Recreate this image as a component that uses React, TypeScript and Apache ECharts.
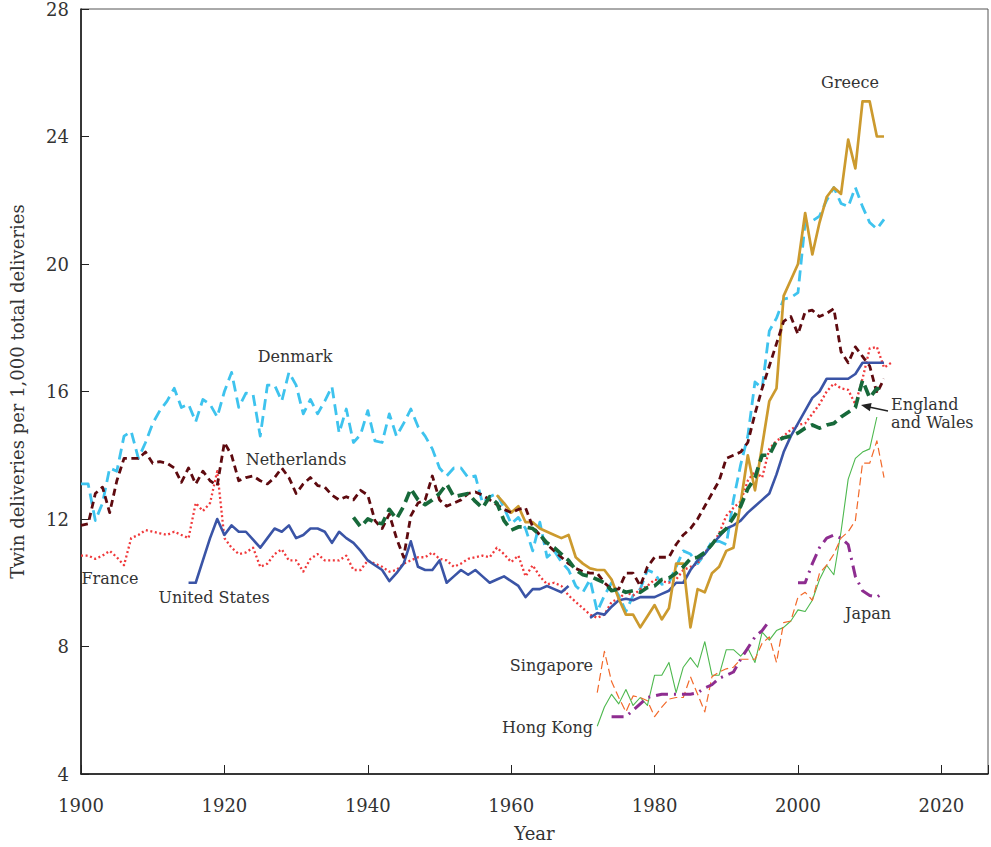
import React, { useEffect, useRef } from "react";
import * as echarts from "echarts";

// ---- data ----
const denmarkStart = 1900;
const denmark = [
  13.1, 13.1, 11.95, 12.5, 13.6, 13.5, 14.6, 14.75, 13.9, 14.4,
  15.0, 15.4, 15.7, 16.1, 15.5, 15.6, 15.05, 15.75, 15.6, 15.2,
  16.0, 16.6, 15.5, 15.95, 15.9, 14.6, 16.2, 16.2, 15.7, 16.6,
  16.2, 15.3, 15.75, 15.3, 15.7, 16.15, 14.7, 15.45, 14.4, 14.65,
  15.4, 14.45, 14.4, 15.3, 14.6, 15.0, 15.45, 14.9, 14.6, 14.2,
  13.6, 13.35, 13.6, 13.6, 13.3, 13.35, 12.5, 12.7, 12.8, 12.35,
  11.85, 12.05, 11.7, 11.0, 11.9, 10.8, 11.0, 10.65, 10.4, 9.9,
  9.7, 10.1, 9.1, 9.6, 10.0, 9.6, 9.1, 9.6, 9.8, 10.4,
  10.3, 9.95, 10.0, 10.5, 11.0, 10.9, 10.6, 10.9, 11.3, 11.3,
  11.2, 12.6, 13.7, 14.6, 16.3, 16.1, 17.9, 18.3, 18.9, 18.95,
  19.1, 21.3, 21.35, 21.5, 22.0, 22.4, 21.9, 21.8, 22.4, 21.8,
  21.3, 21.1, 21.4,
];

const netherlandsStart = 1900;
const netherlands = [
  11.8, 11.85, 12.8, 13.0, 12.2, 13.2, 13.9, 13.9, 13.9, 14.1,
  13.75, 13.8, 13.75, 13.6, 13.15, 13.6, 13.1, 13.5, 13.2, 13.05,
  14.4, 14.0, 13.2, 13.3, 13.35, 13.2, 13.1, 13.3, 13.6, 13.3,
  12.8, 13.1, 13.3, 13.05, 13.0, 12.75, 12.6, 12.7, 12.6, 12.9,
  12.75, 11.95, 11.7, 12.15, 11.4, 10.8, 12.1, 12.5, 12.6, 13.35,
  12.6, 12.4, 12.5, 12.6, 12.8, 12.85, 12.75, 12.6, 12.45, 12.3,
  12.2, 12.3, 12.35, 11.75, 11.5, 11.2, 11.0, 10.8, 10.6, 10.45,
  10.35, 10.3, 10.3, 10.0, 9.8, 9.8, 10.3, 10.3, 9.9, 10.5,
  10.8, 10.8, 10.8, 11.2, 11.5, 11.7, 12.0, 12.4, 12.8, 13.2,
  13.9, 14.0, 14.1, 14.4, 15.3, 16.1, 16.8, 17.5, 18.2, 18.35,
  17.8, 18.5, 18.55, 18.35, 18.45, 18.6, 17.25, 16.9, 17.4, 17.1,
  16.8, 15.95, 16.4,
];

const franceStart = 1900;
const france = [
  10.85, 10.85, 10.75, 10.85, 11.0, 10.8, 10.55, 11.4, 11.5, 11.65,
  11.6, 11.55, 11.5, 11.6, 11.5, 11.4, 12.5, 12.25, 12.5, 13.5,
  11.4, 11.1, 10.9, 10.95, 11.1, 10.5, 10.6, 10.9, 11.05, 10.7,
  10.7, 10.35, 10.75, 10.9, 10.7, 10.7, 10.7, 10.85, 10.4, 10.4,
  10.7, 10.6, 10.5, 10.35, 10.4, 10.6, 10.7, 10.8, 10.8, 10.95,
  10.75, 10.7, 10.5, 10.6, 10.75, 10.8, 10.85, 10.8, 11.1, 10.9,
  10.65, 10.85, 10.2, 10.55, 10.2, 9.95, 10.0, 9.9, 9.6, 9.4,
  9.2, 9.0, 8.9, 9.0, 9.4, 9.5, 9.7, 9.6, 9.8, 9.9,
  10.1, 10.05, 10.0, 10.1, 10.4, 10.5, 10.6, 10.95, 11.2, 11.55,
  12.1, 12.35, 12.55, 13.2, 13.5, 13.3, 14.2, 14.45, 14.6, 14.8,
  14.95, 15.0, 15.3, 15.6, 16.0, 16.25, 16.1, 16.05, 15.6, 16.4,
  17.35, 17.4, 16.75, 16.9,
];

const usStart = 1915;
const unitedStates = [
  10.0, 10.0, 10.7, 11.4, 12.0,
  11.5, 11.8, 11.6, 11.6, 11.35, 11.1, 11.4, 11.7, 11.6, 11.8,
  11.4, 11.5, 11.7, 11.7, 11.6, 11.25, 11.6, 11.4, 11.25, 11.0,
  10.7, 10.55, 10.4, 10.05, 10.3, 10.6, 11.3, 10.5, 10.4, 10.4,
  10.7, 10.0, 10.2, 10.4, 10.25, 10.4, 10.2, 10.0, 10.1, 10.2,
  10.05, 9.9, 9.55, 9.8, 9.8, 9.9, 9.8, 9.7, 9.9, null,
  null, 8.9, 9.05, 9.0, 9.25, 9.45, 9.5, 9.45, 9.55, 9.55,
  9.55, 9.65, 9.75, 10.0, 10.0, 10.4, 10.7, 10.9, 11.2, 11.45,
  11.7, 11.8, 11.95, 12.2, 12.4, 12.6, 12.8, 13.4, 14.1, 14.6,
  15.0, 15.4, 15.8, 16.0, 16.4, 16.4, 16.4, 16.4, 16.55, 16.9,
  16.9, 16.9, 16.9,
];

const englandWalesStart = 1938;
const englandWales = [
  12.05, 11.75,
  12.0, 11.9, 11.85, 12.3, 12.0, 12.4, 12.95, 12.6, 12.45, 12.6,
  12.8, 13.1, 12.7, 12.75, 12.8, 12.55, 12.35, 12.7, 12.5, 11.95,
  11.65, 11.75, 11.75, 11.7, 11.5, 11.25, 11.1, 10.9, 10.7, 10.4,
  10.25, 10.2, 10.1, 10.0, 9.75, 9.8, 9.7, 9.75, 9.7, 9.85,
  9.9, 10.1, 10.15, 10.3, 10.5, 10.75, 10.8, 10.95, 11.2, 11.5,
  11.7, 12.05, 12.4, 12.95, 13.3, 14.0, 14.0, 14.45, 14.55, 14.6,
  14.7, 14.85, 14.95, 14.85, 14.95, 15.0, 15.2, 15.35, 15.5, 16.35,
  15.8, 16.1, 15.95,
];

const greeceStart = 1958;
const greece = [
  12.75, 12.5,
  12.2, 12.4, 11.9, 11.9, 11.7, 11.6, 11.5, 11.4, 11.5, 10.8,
  10.6, 10.45, 10.4, 10.4, 10.1, 9.5, 9.0, 9.0, 8.6, 8.95,
  9.3, 8.85, 9.2, 10.6, 10.6, 8.6, 9.8, 9.7, 10.3, 10.5,
  11.0, 11.1, 12.5, 14.0, 12.9, 14.3, 15.7, 16.1, 19.0, 19.5,
  20.0, 21.6, 20.3, 21.3, 22.1, 22.4, 22.2, 23.9, 23.0, 25.1,
  25.1, 24.0, 24.0,
];

const hongKongStart = 1972;
const hongKong = [
  5.5, 6.1, 6.5, 6.2, 6.65, 6.15, 6.4, 6.15,
  7.1, 7.1, 7.5, 6.55, 7.35, 7.65, 7.35, 8.15, 7.1, 7.1,
  7.9, 7.9, 7.7, 7.95, 7.5, 8.45, 8.2, 8.5, 8.6, 8.8,
  9.15, 9.1, 9.45, 10.1, 10.55, 10.25, 11.6, 13.25, 13.9, 14.1,
  14.2, 15.2,
];

const singaporeStart = 1972;
const singapore = [
  6.55, 7.85, 6.9, 6.4, 5.95, 6.45, 6.4, 6.3,
  5.8, 6.1, 6.35, 6.4, 6.4, 7.05, 6.5, 5.95, 7.05, 7.2,
  7.3, 7.35, 7.6, 7.6, 7.6, 8.1, 8.3, 7.5, 8.75, 8.8,
  9.55, 9.7, 9.45, 10.3, 10.55, 10.9, 11.4, 11.6, 11.95, 13.75,
  13.75, 14.45, 13.3,
];

const japanStart = 1974;
const japan = [
  5.8, 5.8, 5.8, 6.0, 6.2, 6.4,
  6.45, 6.5, 6.5, 6.5, 6.5, 6.5, 6.55, 6.7, 6.8, 7.0,
  7.1, 7.2, 7.6, 7.95, 8.3, 8.5, 8.8, null, null, null,
  10.0, 10.0, 10.6, 11.1, 11.4, 11.5, 11.4, 11.2, 10.2, 9.75,
  9.6, 9.55, 9.7,
];

const yearTicks = [1900, 1920, 1940, 1960, 1980, 2000, 2020];
const valueTicks = [4, 8, 12, 16, 20, 24, 28];

const FONT = '"DejaVu Serif", serif';

function toPairs(start: number, values: (number | null)[]) {
  return values.map((v, i) => [start + i, v]);
}

export default function App() {
  const ref = useRef<HTMLDivElement>(null);

  useEffect(() => {
    if (!ref.current) return;
    const chart = echarts.init(ref.current, undefined, { renderer: "svg" });

    const line = (
      name: string,
      start: number,
      values: (number | null)[],
      color: string,
      width: number,
      type: any,
      z = 2
    ) => ({
      name,
      type: "line",
      data: toPairs(start, values),
      showSymbol: false,
      connectNulls: false,
      z,
      lineStyle: { color, width, type, cap: "butt", join: "round" },
      itemStyle: { color },
      emphasis: { disabled: true },
    });

    const arrowTip = [861, 405];
    const label = (text: string, x: number, y: number, align = "center") => ({
      type: "text",
      x,
      y,
      style: { text, fontFamily: FONT, fontSize: 16, lineHeight: 18, fill: "#333", align, verticalAlign: "middle" },
    });

    chart.setOption({
      animation: false,
      backgroundColor: "#ffffff",
      grid: {
        left: 78,
        right: 2,
        top: 5,
        bottom: 71,
        show: true,
        borderColor: "#555",
        borderWidth: 1,
      },
      xAxis: {
        type: "value",
        min: yearTicks[0],
        max: 2026.5,
        interval: 20,
        name: "Year",
        nameLocation: "middle",
        nameGap: 50,
        nameTextStyle: { fontFamily: FONT, fontSize: 18, color: "#333" },
        axisLine: { show: true, lineStyle: { color: "#111", width: 1.5 } },
        axisTick: { show: true, inside: true, length: 9, lineStyle: { color: "#222", width: 1 } },
        axisLabel: {
          fontFamily: FONT,
          fontSize: 18,
          color: "#333",
          margin: 22,
          formatter: (v: number) => (yearTicks.includes(v) ? String(v) : ""),
        },
        splitLine: { show: false },
      },
      yAxis: {
        type: "value",
        min: valueTicks[0],
        max: valueTicks[valueTicks.length - 1],
        interval: 4,
        name: "Twin deliveries per 1,000 total deliveries",
        nameLocation: "middle",
        nameGap: 55,
        nameRotate: 90,
        nameTextStyle: { fontFamily: FONT, fontSize: 18, color: "#333" },
        axisLine: { show: true, lineStyle: { color: "#111", width: 1.5 } },
        axisTick: { show: true, inside: true, length: 8, lineStyle: { color: "#222", width: 1 } },
        axisLabel: { fontFamily: FONT, fontSize: 18, color: "#333", margin: 12 },
        splitLine: { show: false },
      },
      series: [
        line("Denmark", denmarkStart, denmark, "#3EC3EE", 2.8, [11, 6], 2),
        line("France", franceStart, france, "#F0383A", 2.3, [2, 2.6], 3),
        line("United States", usStart, unitedStates, "#3A54A6", 2.6, "solid", 3),
        line("Netherlands", netherlandsStart, netherlands, "#5E0A0F", 2.8, [7, 4.5], 4),
        line("Greece", greeceStart, greece, "#CC9A2E", 2.7, "solid", 3),
        line("England and Wales", englandWalesStart, englandWales, "#17693A", 3.7, [11, 6], 5),
        line("Hong Kong", hongKongStart, hongKong, "#4DB84E", 1.1, "solid", 3),
        line("Singapore", singaporeStart, singapore, "#F2692A", 1.2, [8, 4], 3),
        line("Japan", japanStart, japan, "#8E2D90", 3, [12, 6, 2, 6], 4),
      ],
      graphic: [
        label("Denmark", 295, 356),
        label("Netherlands", 296, 459),
        label("France", 110, 578),
        label("United States", 214, 597),
        label("Greece", 850, 82),
        label("England\nand Wales", 891, 413, "left"),
        label("Japan", 868, 613),
        label("Singapore", 593, 665, "right"),
        label("Hong Kong", 593, 727, "right"),
        { type: "line", shape: { x1: 888, y1: 411, x2: 869, y2: 407 }, style: { stroke: "#222", lineWidth: 1.3 } },
        {
          type: "polygon",
          shape: { points: [arrowTip, [871.6, 403.1], [869.9, 411.2]] },
          style: { fill: "#222" },
        },
      ],
    });

    return () => chart.dispose();
  }, []);

  return (
    <div
      ref={ref}
      style={{ position: "fixed", left: 0, top: 0, width: 991, height: 847, background: "#fff" }}
    />
  );
}
